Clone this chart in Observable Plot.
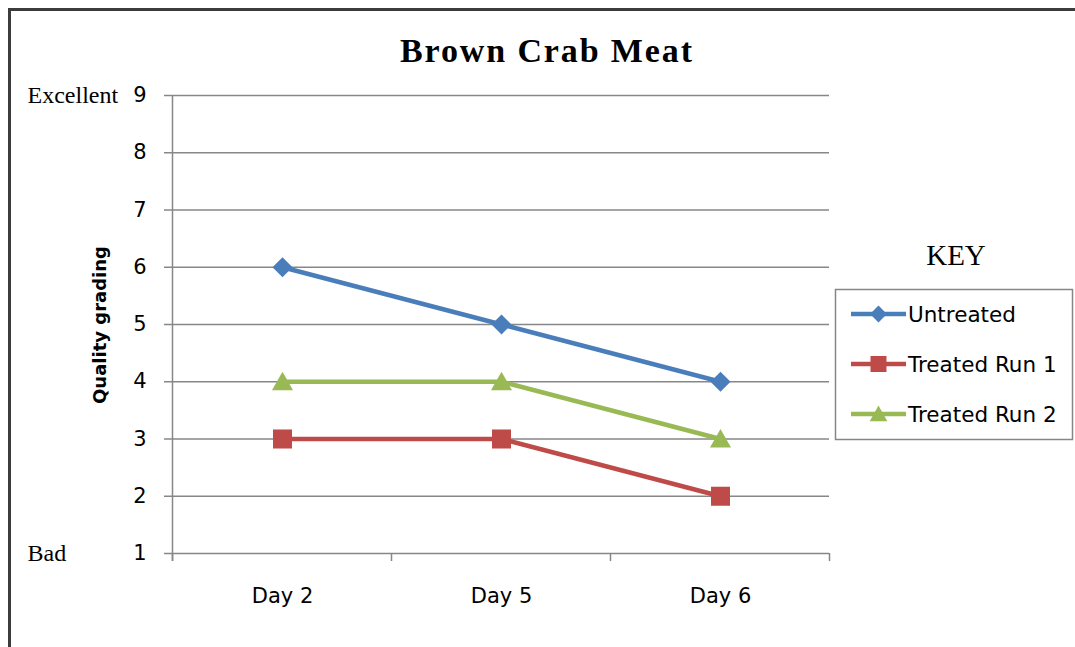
<!DOCTYPE html>
<html><head><meta charset="utf-8">
<script src="https://cdn.jsdelivr.net/npm/d3@7"></script>
<script src="https://cdn.jsdelivr.net/npm/@observablehq/plot@0.6"></script>
<style>
html,body{margin:0;padding:0;background:#fff;}
#wrap{position:relative;width:1075px;height:647px;overflow:hidden;background:#fff;}
#wrap > svg{position:absolute;left:0;top:0;}
</style></head><body><div id="wrap"></div>
<script>
// ---- data ----
const days = ["Day 2", "Day 5", "Day 6"];
const seriesNames = ["Untreated", "Treated Run 1", "Treated Run 2"];
const untreated = [6, 5, 4];
const treatedRun1 = [3, 3, 2];
const treatedRun2 = [4, 4, 3];
const yTicks = [1, 2, 3, 4, 5, 6, 7, 8, 9];
const yEndValues = [9, 1];
const yEndLabels = ["Excellent", "Bad"];
const titleText = "Brown Crab Meat";
const yTitle = "Quality grading";
const keyTitle = "KEY";

// ---- tables built from the arrays ----
const seriesValues = [untreated, treatedRun1, treatedRun2];
const rows = seriesNames.flatMap((s, i) => days.map((d, j) => ({series: s, day: d, value: seriesValues[i][j]})));
const endRows = yEndValues.map((v, i) => ({value: v, label: yEndLabels[i]}));

// ---- styles ----
const colors = ["#4A7EBB", "#BE4B48", "#98B954"];
const gridColor = "#878787";
const diamond = {draw(ctx, size){ const a = Math.sqrt(size)/2; ctx.moveTo(0,-a); ctx.lineTo(a,0); ctx.lineTo(0,a); ctx.lineTo(-a,0); ctx.closePath(); }};
const square = {draw(ctx, size){ const a = Math.sqrt(size)/2 * 0.95; ctx.moveTo(-a,-a); ctx.lineTo(a,-a); ctx.lineTo(a,a); ctx.lineTo(-a,a); ctx.closePath(); }};
const triangle = {draw(ctx, size){ const a = Math.sqrt(size)/2; ctx.moveTo(0,-a); ctx.lineTo(a*1.05,a*0.85); ctx.lineTo(-a*1.05,a*0.85); ctx.closePath(); }};
const symbolShapes = [diamond, square, triangle];
const markerR = 11.3;

// axis frame: y axis line + category boundary ticks, computed from the x/y scales
function axisFrame(index, scales) {
  const {x, y} = scales;
  const px = days.map(d => x(d));
  const step = px[1] - px[0];
  const edges = [px[0] - step / 2, ...px.slice(1).map((p, i) => (p + px[i]) / 2), px[px.length - 1] + step / 2];
  const y0 = y(yTicks[0]), yTop = y(yTicks[yTicks.length - 1]);
  const g = d3.create("svg:g").attr("stroke", gridColor).attr("stroke-width", 1.5);
  g.append("line").attr("x1", edges[0]).attr("x2", edges[0]).attr("y1", yTop).attr("y2", y0 + 8);
  for (const e of edges) g.append("line").attr("x1", e).attr("x2", e).attr("y1", y0).attr("y2", y0 + 8);
  return g.node();
}

const chart = Plot.plot({
  width: 1075, height: 647,
  marginLeft: 172, marginRight: 246, marginTop: 95, marginBottom: 94,
  style: {background: "transparent", fontFamily: "'DejaVu Sans', sans-serif", fontSize: "21px", color: "black"},
  x: {type: "point", domain: days, padding: 0.5, axis: null},
  y: {domain: [1, 9], axis: null},
  color: {domain: seriesNames, range: colors},
  symbol: {domain: seriesNames, range: symbolShapes},
  marks: [
    Plot.gridY(yTicks, {stroke: gridColor, strokeOpacity: 1, strokeWidth: 1.5}),
    Plot.axisY(yTicks, {tickSize: 8, tickPadding: 18, stroke: gridColor, strokeWidth: 1.5, fill: "black", fontSize: 21, label: null, tickFormat: d => String(d)}),
    Plot.axisX(days, {tickSize: 0, tickPadding: 35, fill: "black", fontSize: 21, label: null}),
    axisFrame,
    Plot.text(endRows, {y: "value", text: "label", frameAnchor: "left", dx: -145, textAnchor: "start", fontSize: 24, fontFamily: "'Liberation Serif', 'Times New Roman', serif", fill: "black"}),
    Plot.line(rows, {x: "day", y: "value", z: "series", stroke: "series", strokeWidth: 4.5}),
    Plot.dot(rows, {x: "day", y: "value", fill: "series", symbol: "series", r: markerR, stroke: "none"})
  ]
});

const wrap = document.getElementById("wrap");
wrap.appendChild(chart);

// ---- overlay: frame, title, y title, key ----
const ov = d3.select(wrap).append("svg").attr("width", 1075).attr("height", 647);
ov.append("rect").attr("x", 9.5).attr("y", 9.5).attr("width", 1300).attr("height", 1000)
  .attr("fill", "none").attr("stroke", "#3c3c3c").attr("stroke-width", 3);
ov.append("text").attr("x", 546).attr("y", 62).attr("text-anchor", "middle")
  .attr("font-family", "'Liberation Serif', 'Times New Roman', serif").attr("font-weight", "bold").attr("font-size", 34)
  .attr("textLength", 292).attr("lengthAdjust", "spacing").text(titleText);
ov.append("text").attr("transform", "translate(106,325) rotate(-90)").attr("text-anchor", "middle")
  .attr("font-family", "'DejaVu Sans', sans-serif").attr("font-weight", "bold").attr("font-size", 18)
  .text(yTitle);
ov.append("text").attr("x", 956).attr("y", 265).attr("text-anchor", "middle")
  .attr("font-family", "'Liberation Serif', 'Times New Roman', serif").attr("font-size", 29).text(keyTitle);

const lg = ov.append("g").attr("transform", "translate(835,289)");
lg.append("rect").attr("x", 0.5).attr("y", 0.5).attr("width", 237).attr("height", 150)
  .attr("fill", "#fff").attr("stroke", "#868686").attr("stroke-width", 1.5);
seriesNames.forEach((s, i) => {
  const cy = 25 + i * 50;
  const g = lg.append("g");
  g.append("line").attr("x1", 16).attr("x2", 71).attr("y1", cy).attr("y2", cy)
    .attr("stroke", colors[i]).attr("stroke-width", 4.5);
  g.append("path").attr("transform", `translate(43.5,${cy})`)
    .attr("d", d3.symbol(symbolShapes[i], Math.PI * 9.5 * 9.5)()).attr("fill", colors[i]);
  g.append("text").attr("x", 73).attr("y", cy).attr("dy", "0.35em")
    .attr("font-family", "'DejaVu Sans', sans-serif").attr("font-size", 21.5).text(s);
});
</script>
</body></html>
